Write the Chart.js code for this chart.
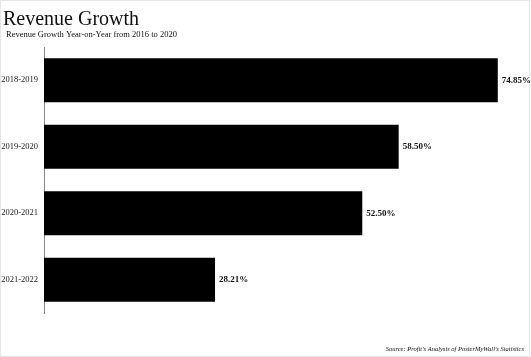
<!DOCTYPE html>
<html><head><meta charset="utf-8">
<script src="https://cdn.jsdelivr.net/npm/chart.js@4"></script>
<style>html,body{margin:0;padding:0;background:#fff}#wrap{width:531px;height:357px;position:relative}</style>
</head><body><div id="wrap"><canvas id="c" width="531" height="357"></canvas></div>
<script>
const categories = ["2018-2019", "2019-2020", "2020-2021", "2021-2022"];
const growth = [74.85, 58.50, 52.50, 28.21];
const valueLabels = ["74.85%", "58.50%", "52.50%", "28.21%"];
const titleText = "Revenue Growth";
const subtitleText = "Revenue Growth Year-on-Year from 2016 to 2020";
const sourceText = "Source: Profit's Analysis of PosterMyWall's Statistics";

const SERIF = "'Liberation Serif', 'DejaVu Serif', serif";

const textPlugin = {
  id: 'texts',
  afterDraw(chart) {
    const ctx = chart.ctx;
    ctx.save();
    ctx.strokeStyle = '#e6e6e6';
    ctx.lineWidth = 1;
    ctx.strokeRect(0.5, 0.5, 529, 356);
    ctx.fillStyle = '#111';
    ctx.textBaseline = 'alphabetic';
    ctx.textAlign = 'left';
    ctx.font = '20px ' + SERIF;
    ctx.fillText(titleText, 3, 25);
    ctx.font = '8.5px ' + SERIF;
    ctx.fillText(subtitleText, 6, 37);
    ctx.font = 'italic 6.5px ' + SERIF;
    ctx.textAlign = 'right';
    ctx.fillText(sourceText, 524, 351);
    const meta = chart.getDatasetMeta(0);
    ctx.font = 'bold 9px ' + SERIF;
    ctx.textAlign = 'left';
    ctx.textBaseline = 'middle';
    meta.data.forEach((bar, i) => {
      ctx.fillText(valueLabels[i], bar.x + 4, bar.y);
    });
    ctx.restore();
  }
};

new Chart(document.getElementById('c'), {
  type: 'bar',
  data: {
    labels: categories,
    datasets: [{
      data: growth,
      backgroundColor: '#000',
      borderColor: '#000',
      borderWidth: 0,
      categoryPercentage: 0.66,
      barPercentage: 1
    }]
  },
  options: {
    indexAxis: 'y',
    responsive: false,
    animation: false,
    layout: { padding: { top: 47, bottom: 44, right: 2, left: 0 } },
    plugins: { legend: { display: false }, tooltip: { enabled: false }, title: { display: false } },
    scales: {
      x: { display: false, min: 0, max: 80 },
      y: {
        afterFit(s) { s.width = 44; },
        grid: { display: false, drawTicks: false },
        border: { display: true, color: '#888', width: 1 },
        ticks: { color: '#222', font: { family: SERIF, size: 8.5 }, padding: 6 }
      }
    }
  },
  plugins: [textPlugin]
});
</script>
</body></html>
